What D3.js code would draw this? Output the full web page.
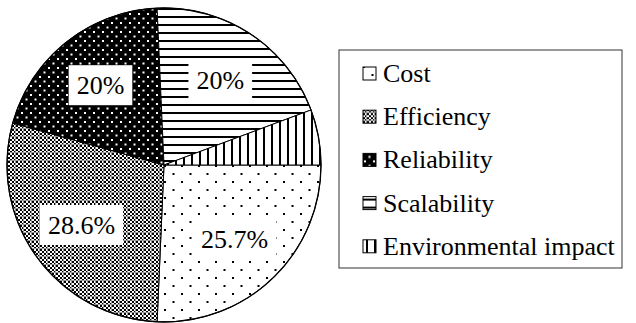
<!DOCTYPE html>
<html>
<head>
<meta charset="utf-8">
<script src="https://cdn.jsdelivr.net/npm/d3@7"></script>
<style>
  body { margin: 0; background: #fff; }
  svg { display: block; }
</style>
</head>
<body>
<script>
// data
const categories = ['Cost', 'Efficiency', 'Reliability', 'Scalability', 'Environmental impact'];
const shares = [25.7, 28.6, 20, 20, 5.7];
const pctLabels = ['25.7%', '28.6%', '20%', '20%', ''];
const patternIds = ['pCost', 'pEff', 'pRel', 'pScal', 'pEnv'];

const width = 636;
const height = 323;
const cx = 164, cy = 165, radius = 157;
const serif = 'Liberation Serif';

const svg = d3.select('body').append('svg')
  .attr('width', width)
  .attr('height', height);

// fill patterns
const defs = svg.append('defs');

let p = defs.append('pattern').attr('id', 'pCost').attr('patternUnits', 'userSpaceOnUse')
  .attr('width', 17).attr('height', 16);
p.append('rect').attr('width', 17).attr('height', 16).attr('fill', '#fff');
p.append('rect').attr('x', 0).attr('y', 0).attr('width', 2).attr('height', 2).attr('fill', '#000');
p.append('rect').attr('x', 8.5).attr('y', 8).attr('width', 2).attr('height', 2).attr('fill', '#000');

p = defs.append('pattern').attr('id', 'pEff').attr('patternUnits', 'userSpaceOnUse')
  .attr('width', 8).attr('height', 8);
p.append('rect').attr('width', 8).attr('height', 8).attr('fill', '#fff');
for (let i = 0; i < 4; i++) {
  for (let j = 0; j < 4; j++) {
    if ((i + j) % 2 === 0) {
      p.append('rect').attr('x', i * 2).attr('y', j * 2).attr('width', 2).attr('height', 2).attr('fill', '#000');
    }
  }
}
p.append('rect').attr('x', 0).attr('y', 3).attr('width', 8).attr('height', 1).attr('fill', '#999');
p.append('rect').attr('x', 3).attr('y', 0).attr('width', 1).attr('height', 8).attr('fill', '#999');

p = defs.append('pattern').attr('id', 'pRel').attr('patternUnits', 'userSpaceOnUse')
  .attr('width', 9).attr('height', 9);
p.append('rect').attr('width', 9).attr('height', 9).attr('fill', '#000');
p.append('rect').attr('x', 1).attr('y', 1).attr('width', 2).attr('height', 2).attr('fill', '#fff');
p.append('rect').attr('x', 5.5).attr('y', 5.5).attr('width', 2).attr('height', 2).attr('fill', '#fff');

p = defs.append('pattern').attr('id', 'pScal').attr('patternUnits', 'userSpaceOnUse')
  .attr('width', 8).attr('height', 8);
p.append('rect').attr('width', 8).attr('height', 8).attr('fill', '#fff');
p.append('rect').attr('x', 0).attr('y', 3).attr('width', 8).attr('height', 2).attr('fill', '#000');

p = defs.append('pattern').attr('id', 'pEnv').attr('patternUnits', 'userSpaceOnUse')
  .attr('width', 8).attr('height', 8);
p.append('rect').attr('width', 8).attr('height', 8).attr('fill', '#fff');
p.append('rect').attr('x', 3).attr('y', 0).attr('width', 2).attr('height', 8).attr('fill', '#000');

// pie, clockwise from 3 o'clock
const pie = d3.pie().sort(null).value(d => d)
  .startAngle(Math.PI / 2).endAngle(Math.PI / 2 + 2 * Math.PI);
const arcs = pie(shares);

const arc = d3.arc().innerRadius(0).outerRadius(radius);
const labelArc = d3.arc().innerRadius(102).outerRadius(102);

const g = svg.append('g').attr('transform', 'translate(' + cx + ',' + cy + ')');

g.selectAll('path.slice')
  .data(arcs)
  .enter().append('path')
  .attr('class', 'slice')
  .attr('d', arc)
  .attr('fill', (d, i) => 'url(#' + patternIds[i] + ')')
  .attr('stroke', '#000')
  .attr('stroke-width', 1);

g.append('circle').attr('r', radius).attr('fill', 'none').attr('stroke', '#000').attr('stroke-width', 1.3);

// percentage labels on white boxes
const lab = g.selectAll('g.lab')
  .data(arcs.filter((d, i) => pctLabels[i] !== ''))
  .enter().append('g')
  .attr('class', 'lab')
  .attr('transform', d => 'translate(' + labelArc.centroid(d) + ')');

lab.append('text')
  .attr('text-anchor', 'middle')
  .attr('dy', '0.35em')
  .attr('font-family', serif)
  .attr('font-size', 26)
  .attr('fill', '#000')
  .text(d => pctLabels[d.index]);

lab.each(function () {
  const grp = d3.select(this);
  const bb = grp.select('text').node().getBBox();
  grp.insert('rect', 'text')
    .attr('x', bb.x - 8)
    .attr('y', -20)
    .attr('width', bb.width + 16)
    .attr('height', 40)
    .attr('fill', '#fff');
});

// legend
const lx = 339, ly = 50, lw = 283, lh = 218, rowH = 43.2;
const legend = svg.append('g');
legend.append('rect')
  .attr('x', lx).attr('y', ly).attr('width', lw).attr('height', lh)
  .attr('fill', '#fff').attr('stroke', '#333').attr('stroke-width', 1);

const rows = legend.selectAll('g.row')
  .data(categories)
  .enter().append('g')
  .attr('class', 'row')
  .attr('transform', (d, i) => 'translate(' + (lx + 24) + ',' + (ly + 32 + i * rowH) + ')');

rows.append('rect')
  .attr('x', 0).attr('y', -15).attr('width', 13).attr('height', 13)
  .attr('fill', (d, i) => 'url(#' + patternIds[i] + ')')
  .attr('stroke', '#000').attr('stroke-width', 1);

rows.append('text')
  .attr('x', 20)
  .attr('y', 0)
  .attr('font-family', serif)
  .attr('font-size', 26)
  .attr('fill', '#000')
  .text(d => d);
</script>
</body>
</html>
